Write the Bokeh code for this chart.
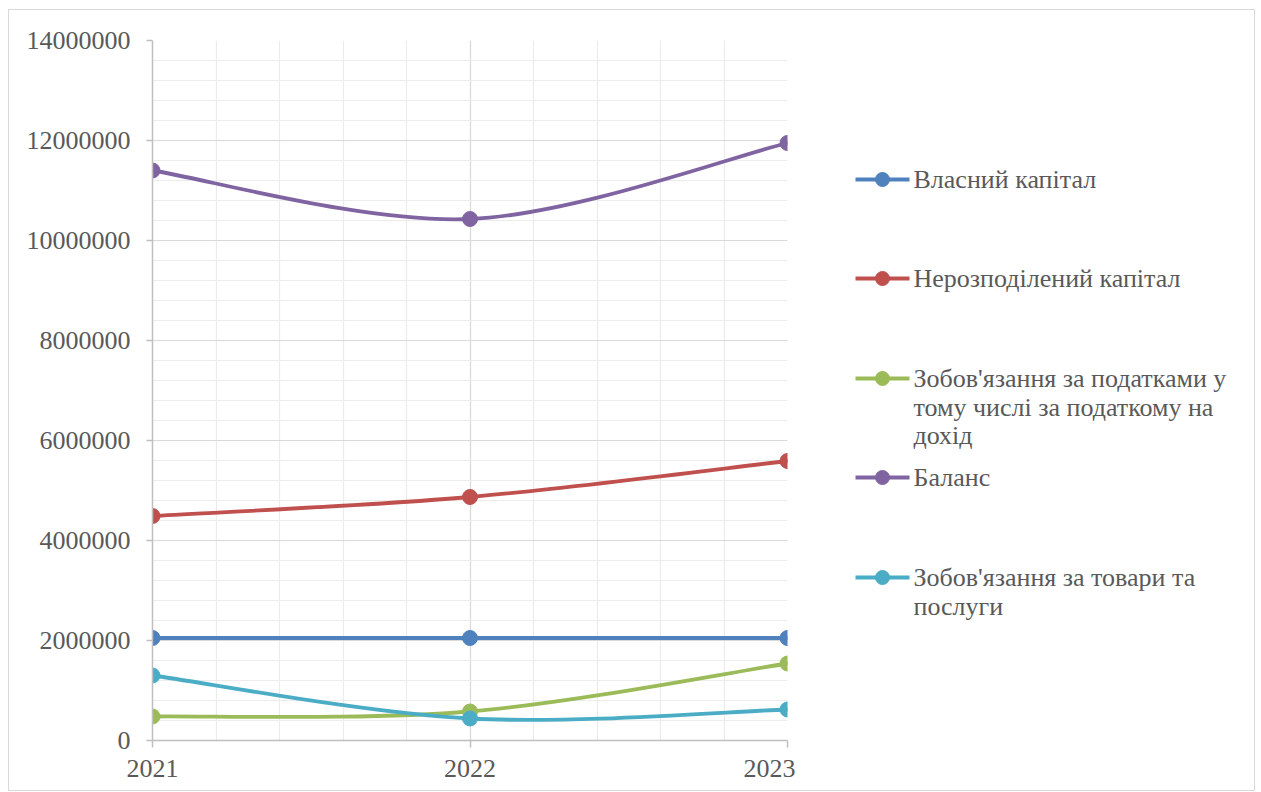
from bokeh.plotting import figure
from bokeh.layouts import row
from bokeh.models import Range1d, FixedTicker, BasicTickFormatter
from bokeh.core.properties import value
from bokeh.embed import file_html
from bokeh.resources import INLINE

# ---------------- data ----------------
years = [2021, 2022, 2023]
vlasnyi_kapital = [2050000, 2050000, 2050000]
nerozpodilenyi_kapital = [4490000, 4870000, 5590000]
zobov_podatky = [480000, 580000, 1540000]
balans = [11400000, 10430000, 11950000]
zobov_tovary = [1300000, 440000, 620000]

series_names = [
    "Власний капітал",
    "Нерозподілений капітал",
    "Зобов'язання за податками у\nтому числі за податкому на\nдохід",
    "Баланс",
    "Зобов'язання за товари та\nпослуги",
]
series_values = [vlasnyi_kapital, nerozpodilenyi_kapital, zobov_podatky, balans, zobov_tovary]
series_colors = ["#4F81BD", "#C0504D", "#9BBB59", "#8064A2", "#4BACC6"]

y_ticks = [0, 2000000, 4000000, 6000000, 8000000, 10000000, 12000000, 14000000]
y_minor = [i * 400000 for i in range(36)]
x_minor = [2021 + i * 0.2 for i in range(11)]

FONT = "Liberation Serif"
TXT = "#595959"

# ---------------- main plot ----------------
p = figure(
    frame_width=635, frame_height=700,
    min_border_left=143, min_border_top=30, min_border_right=8, min_border_bottom=50,
    x_range=Range1d(2021, 2023), y_range=Range1d(0, 14000000),
    output_backend="svg", toolbar_location=None,
    background_fill_color="white", border_fill_color="white",
)
p.outline_line_color = None

p.yaxis.ticker = FixedTicker(ticks=y_ticks, minor_ticks=y_minor)
p.xaxis.ticker = FixedTicker(ticks=years, minor_ticks=x_minor)
p.yaxis.formatter = BasicTickFormatter(use_scientific=False)
p.xaxis.formatter = BasicTickFormatter(use_scientific=False)

for ax in (p.xaxis, p.yaxis):
    ax.axis_line_color = "#bfbfbf"
    ax.axis_line_width = 1.5
    ax.major_tick_line_color = "#bfbfbf"
    ax.major_tick_line_width = 1.5
    ax.major_tick_in = 0
    ax.minor_tick_line_color = None
    ax.major_label_text_font = FONT
    ax.major_label_text_font_size = "26px"
    ax.major_label_text_color = TXT
p.yaxis.major_tick_out = 6
p.xaxis.major_tick_out = 7
p.yaxis.major_label_standoff = 16
p.xaxis.major_label_standoff = 12

p.grid.grid_line_color = "#d9d9d9"
p.grid.grid_line_width = 1.2
p.grid.minor_grid_line_color = "#ececec"
p.grid.minor_grid_line_width = 1.2


def smooth_segments(xs, ys):
    """Catmull-Rom style bezier control points (Excel smoothed line)."""
    n = len(xs)
    out = dict(x0=[], y0=[], x1=[], y1=[], cx0=[], cy0=[], cx1=[], cy1=[])
    for i in range(n - 1):
        xm, ym = (xs[i - 1], ys[i - 1]) if i > 0 else (xs[i], ys[i])
        xp, yp = (xs[i + 2], ys[i + 2]) if i + 2 < n else (xs[i + 1], ys[i + 1])
        out["x0"].append(xs[i]); out["y0"].append(ys[i])
        out["x1"].append(xs[i + 1]); out["y1"].append(ys[i + 1])
        out["cx0"].append(xs[i] + (xs[i + 1] - xm) / 6)
        out["cy0"].append(ys[i] + (ys[i + 1] - ym) / 6)
        out["cx1"].append(xs[i + 1] - (xp - xs[i]) / 6)
        out["cy1"].append(ys[i + 1] - (yp - ys[i]) / 6)
    return out


for vals, col in zip(series_values, series_colors):
    seg = smooth_segments(years, vals)
    p.bezier(line_color=col, line_width=3.8, line_cap="round", **seg)
    p.scatter(years, vals, size=15, fill_color=col, line_color=col, marker="circle")

# ---------------- legend panel ----------------
# (frame of this panel is aligned with the main plot frame: page y 40..740)
LW, LH = 459, 780
leg = figure(
    width=LW, height=LH, x_range=Range1d(0, LW), y_range=Range1d(740, 40),
    min_border=0, output_backend="svg", toolbar_location=None,
    background_fill_color="white", border_fill_color="white",
)
leg.axis.visible = False
leg.grid.visible = False
leg.outline_line_color = None

item_y = [179, 278, 378, 477, 577]
line_step = 28.5
for name, col, yy in zip(series_names, series_colors, item_y):
    leg.line([60, 114], [yy, yy], line_color=col, line_width=3.8)
    leg.scatter([87], [yy], size=14, fill_color=col, line_color=col, marker="circle")
    lines = name.split("\n")
    leg.text(
        x=[118] * len(lines), y=[yy + k * line_step for k in range(len(lines))], text=lines,
        text_font=value(FONT), text_font_size="26px", text_color=TXT,
        text_align="left", text_baseline="middle",
    )

layout = row(p, leg)
layout.styles = {"border": "1px solid #d9d9d9", "margin-left": "8px", "margin-top": "9px"}

open("out.html", "w").write(file_html(layout, INLINE))
